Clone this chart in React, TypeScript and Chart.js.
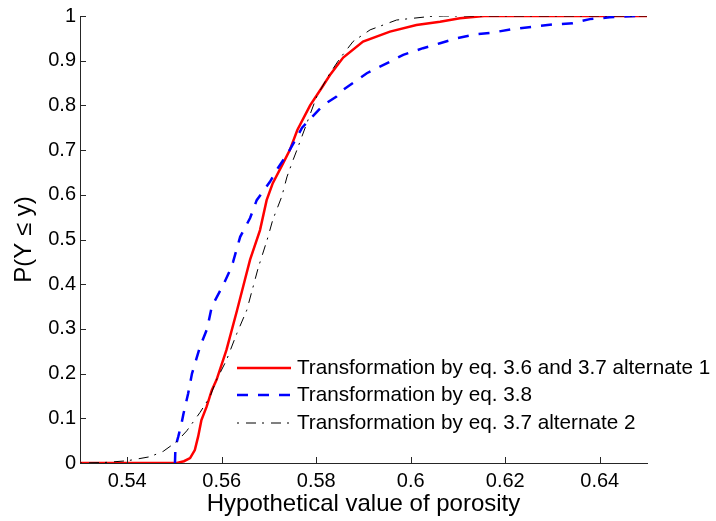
import { useEffect, useRef } from "react";
import { Chart, registerables } from "chart.js";

Chart.register(...registerables);

const FONT = "'Liberation Sans', Arial, Helvetica, sans-serif";

const xTitle = "Hypothetical value of porosity";
const yTitle = "P(Y \u2264 y)";

const legendLabels = [
  "Transformation by eq. 3.6 and 3.7 alternate 1",
  "Transformation by eq. 3.8",
  "Transformation by eq. 3.7 alternate 2",
];

const xTickValues = [0.54, 0.56, 0.58, 0.6, 0.62, 0.64];
const xTickLabels = ["0.54", "0.56", "0.58", "0.6", "0.62", "0.64"];
const yTickValues = [0, 0.1, 0.2, 0.3, 0.4, 0.5, 0.6, 0.7, 0.8, 0.9, 1];
const yTickLabels = ["0", "0.1", "0.2", "0.3", "0.4", "0.5", "0.6", "0.7", "0.8", "0.9", "1"];

// Series 1: eq. 3.6 and 3.7 alternate 1 (red, solid)
const redX = [0.53, 0.545, 0.5505, 0.552, 0.5533, 0.5543, 0.555, 0.5557, 0.5568, 0.5579, 0.5589, 0.561, 0.5632, 0.5649, 0.566, 0.5681, 0.5695, 0.5708, 0.573, 0.5744, 0.576, 0.5787, 0.5812, 0.5829, 0.5857, 0.5899, 0.5956, 0.6012, 0.6062, 0.6104, 0.6155, 0.65];
const redY = [0, 0, 0, 0.004, 0.011, 0.029, 0.059, 0.096, 0.126, 0.163, 0.186, 0.253, 0.34, 0.41, 0.455, 0.521, 0.588, 0.626, 0.671, 0.7, 0.745, 0.8, 0.84, 0.868, 0.907, 0.943, 0.965, 0.98, 0.987, 0.995, 1, 1];

// Series 2: eq. 3.8 (blue, dashed)
const blueX = [0.5501, 0.5502, 0.5508, 0.5515, 0.5519, 0.5529, 0.5537, 0.5554, 0.5569, 0.5579, 0.5604, 0.5617, 0.5624, 0.5639, 0.566, 0.5674, 0.5702, 0.5719, 0.574, 0.577, 0.5814, 0.5843, 0.5857, 0.5907, 0.5949, 0.5984, 0.6026, 0.6062, 0.6097, 0.6136, 0.6174, 0.6216, 0.6259, 0.6301, 0.6343, 0.6379, 0.6421, 0.6475];
const blueY = [0, 0.036, 0.059, 0.089, 0.11, 0.156, 0.2, 0.26, 0.3, 0.35, 0.4, 0.43, 0.45, 0.506, 0.548, 0.588, 0.629, 0.66, 0.693, 0.75, 0.8, 0.82, 0.835, 0.872, 0.894, 0.913, 0.928, 0.939, 0.95, 0.959, 0.963, 0.971, 0.976, 0.981, 0.984, 0.993, 0.997, 1];

// Series 3: eq. 3.7 alternate 2 (black, dash-dot)
const blackX = [0.53, 0.535, 0.54, 0.5448, 0.5476, 0.5505, 0.5526, 0.5554, 0.5575, 0.5589, 0.561, 0.5632, 0.5653, 0.5677, 0.5696, 0.5708, 0.5727, 0.5738, 0.5751, 0.5759, 0.578, 0.5801, 0.5829, 0.585, 0.5878, 0.5914, 0.597, 0.6041, 0.607, 0.65];
const blackY = [0, 0.001, 0.005, 0.014, 0.026, 0.048, 0.072, 0.113, 0.148, 0.186, 0.23, 0.29, 0.342, 0.436, 0.499, 0.544, 0.596, 0.64, 0.678, 0.7, 0.76, 0.82, 0.872, 0.905, 0.943, 0.969, 0.991, 0.999, 1, 1];

const toPoints = (xs: number[], ys: number[]) => xs.map((x, i) => ({ x, y: ys[i] }));

const seriesStyles = [
  { color: "#ff0000", width: 2.5, dash: [] as number[] },
  { color: "#0000ff", width: 2.5, dash: [11, 10] },
  { color: "#000000", width: 1, dash: [2, 7, 10, 6] },
];

export default function App() {
  const ref = useRef<HTMLCanvasElement>(null);

  useEffect(() => {
    document.body.style.margin = "0";
    const canvas = ref.current;
    if (!canvas) return;

    const tickMarks = {
      id: "tickMarks",
      afterDraw(chart: any) {
        const { ctx, chartArea, scales } = chart;
        ctx.save();
        ctx.strokeStyle = "#262626";
        ctx.lineWidth = 1;
        ctx.setLineDash([]);
        ctx.beginPath();
        for (const v of xTickValues) {
          const px = Math.round(scales.x.getPixelForValue(v)) + 0.5;
          ctx.moveTo(px, chartArea.bottom);
          ctx.lineTo(px, chartArea.bottom - 6);
        }
        for (const v of yTickValues) {
          const py = Math.round(scales.y.getPixelForValue(v)) + 0.5;
          ctx.moveTo(chartArea.left, py);
          ctx.lineTo(chartArea.left + 6, py);
        }
        ctx.stroke();
        ctx.restore();
      },
    };

    const innerLegend = {
      id: "innerLegend",
      afterDraw(chart: any) {
        const { ctx, chartArea } = chart;
        ctx.save();
        const x0 = chartArea.left + 157;
        const x1 = chartArea.left + 211;
        const tx = chartArea.left + 217;
        const rows = [chartArea.top + 352, chartArea.top + 379, chartArea.top + 407];
        ctx.font = `20.7px ${FONT}`;
        ctx.textBaseline = "middle";
        ctx.textAlign = "left";
        legendLabels.forEach((label, i) => {
          const st = seriesStyles[i];
          ctx.strokeStyle = st.color;
          ctx.lineWidth = st.width;
          ctx.setLineDash(st.dash);
          ctx.beginPath();
          ctx.moveTo(x0, rows[i]);
          ctx.lineTo(x1, rows[i]);
          ctx.stroke();
          ctx.setLineDash([]);
          ctx.fillStyle = "#000";
          ctx.fillText(label, tx, rows[i]);
        });
        ctx.restore();
      },
    };

    const datasets = [
      { data: toPoints(redX, redY), order: 2 },
      { data: toPoints(blueX, blueY), order: 1 },
      { data: toPoints(blackX, blackY), order: 0 },
    ].map((d, i) => ({
      ...d,
      label: legendLabels[i],
      showLine: true,
      borderColor: seriesStyles[i].color,
      backgroundColor: seriesStyles[i].color,
      borderWidth: seriesStyles[i].width,
      borderDash: seriesStyles[i].dash,
      pointRadius: 0,
      tension: 0,
      fill: false,
    }));

    const chart = new Chart(canvas, {
      type: "scatter",
      data: { datasets },
      options: {
        animation: false,
        responsive: false,
        devicePixelRatio: 1,
        layout: { padding: { top: 16, right: 69, bottom: 0, left: 0 } },
        plugins: { legend: { display: false }, tooltip: { enabled: false } },
        scales: {
          x: {
            type: "linear",
            min: 0.53,
            max: 0.65,
            afterBuildTicks: (s: any) => {
              s.ticks = xTickValues.map((v) => ({ value: v }));
            },
            afterFit: (s: any) => {
              s.height = 58;
            },
            grid: { display: false, drawTicks: false },
            border: { display: true, color: "#262626", width: 1 },
            ticks: {
              padding: 6,
              color: "#000",
              font: { family: FONT, size: 20 },
              maxRotation: 0,
              autoSkip: false,
              callback: (_v: any, i: number) => xTickLabels[i],
            },
            title: {
              display: true,
              text: xTitle,
              color: "#000",
              font: { family: FONT, size: 24 },
              padding: { top: 0, bottom: 2 },
            },
          },
          y: {
            type: "linear",
            min: 0,
            max: 1,
            afterBuildTicks: (s: any) => {
              s.ticks = yTickValues.map((v) => ({ value: v }));
            },
            afterFit: (s: any) => {
              s.width = 80;
            },
            grid: { display: false, drawTicks: false },
            border: { display: true, color: "#262626", width: 1 },
            ticks: {
              padding: 4,
              color: "#000",
              font: { family: FONT, size: 20 },
              autoSkip: false,
              callback: (_v: any, i: number) => yTickLabels[i],
            },
            title: {
              display: true,
              text: yTitle,
              color: "#000",
              font: { family: FONT, size: 24 },
              padding: { top: 10, bottom: 0 },
            },
          },
        },
      },
      plugins: [tickMarks, innerLegend],
    });

    return () => chart.destroy();
  }, []);

  return (
    <div style={{ position: "absolute", left: 0, top: 0, width: 716, height: 521, background: "#fff" }}>
      <canvas ref={ref} width={716} height={521} style={{ display: "block" }} />
    </div>
  );
}
